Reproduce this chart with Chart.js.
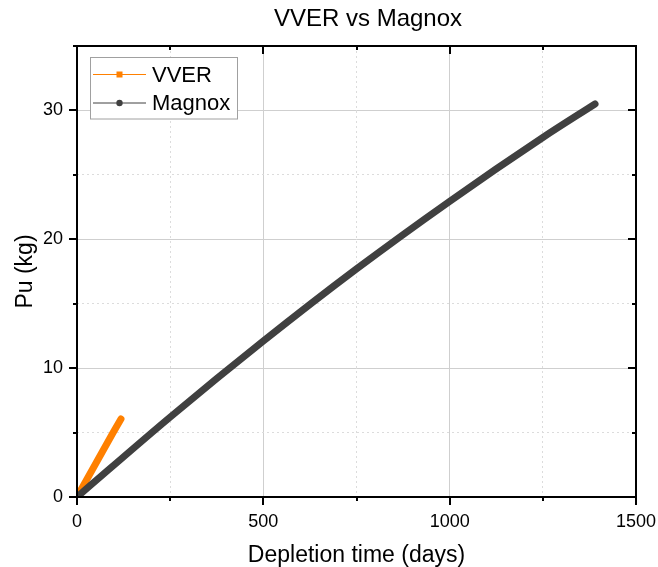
<!DOCTYPE html>
<html>
<head>
<meta charset="utf-8">
<title>VVER vs Magnox</title>
<script src="https://cdn.jsdelivr.net/npm/chart.js@4.4.1/dist/chart.umd.min.js"></script>
<style>
    html, body { margin: 0; padding: 0; background: #fff; }
    #wrap { width: 658px; height: 567px; position: relative; }
</style>
</head>
<body>
<div id="wrap"><canvas id="pu-chart"></canvas></div>
<script>
"use strict";

var chartTitle = "VVER vs Magnox";
var xTitle = "Depletion time (days)";
var yTitle = "Pu (kg)";

var vverDays = [0, 97, 118];
var vverPu = [0, 5.0, 6.05];

var magnoxDays = [0, 250, 500, 750, 1000, 1250, 1390];
var magnoxPu = [0, 6.2, 12.1, 17.7, 22.95, 27.9, 30.5];

var seriesNames = ["VVER", "Magnox"];
var seriesColors = ["#ff8000", "#404040"];

var xTicks = [0, 500, 1000, 1500];
var yTicks = [0, 10, 20, 30];

var fontFamily = "'Liberation Sans', Arial, sans-serif";

function toPoints(xs, ys){
    var pts = [];
    for(var i = 0; i < xs.length; i++){
        pts.push({x: xs[i], y: ys[i]});
    }
    return pts;
}

function isMajor(list, v){
    return list.indexOf(v) !== -1;
}

// frame, mirrored ticks, title and legend like the Origin plot
var framePlugin = {
    id: 'frame',
    afterDraw: function(chart){
        var ctx = chart.ctx;
        var a = chart.chartArea;
        var xs = chart.scales.x;
        var ys = chart.scales.y;
        ctx.save();

        ctx.strokeStyle = '#000';
        ctx.lineWidth = 2;
        ctx.beginPath();
        xs.ticks.forEach(function(t){
            var px = Math.round(xs.getPixelForValue(t.value));
            var len = isMajor(xTicks, t.value) ? 8 : 4;
            ctx.moveTo(px, a.bottom); ctx.lineTo(px, a.bottom + len);
            ctx.moveTo(px, a.top); ctx.lineTo(px, a.top + len);
        });
        ys.ticks.forEach(function(t){
            var py = Math.round(ys.getPixelForValue(t.value));
            var len = isMajor(yTicks, t.value) ? 8 : 4;
            ctx.moveTo(a.left, py); ctx.lineTo(a.left - len, py);
            ctx.moveTo(a.right, py); ctx.lineTo(a.right - len, py);
        });
        ctx.stroke();
        ctx.strokeRect(a.left, a.top, a.right - a.left, a.bottom - a.top);

        // title
        ctx.fillStyle = '#000';
        ctx.font = '24px ' + fontFamily;
        ctx.textAlign = 'center';
        ctx.textBaseline = 'middle';
        ctx.fillText(chartTitle, 368, 19);

        // legend
        var bx = 90, by = 57.5, bw = 147, bh = 61.5;
        ctx.fillStyle = '#fff';
        ctx.fillRect(bx, by, bw, bh);
        ctx.strokeStyle = '#a0a0a0';
        ctx.lineWidth = 1;
        ctx.strokeRect(bx + 0.5, by, bw, bh);
        var rows = [74.5, 103];
        for(var i = 0; i < seriesNames.length; i++){
            var ry = rows[i];
            ctx.strokeStyle = seriesColors[i];
            ctx.lineWidth = 1;
            ctx.beginPath();
            ctx.moveTo(93, ry); ctx.lineTo(146, ry);
            ctx.stroke();
            ctx.fillStyle = seriesColors[i];
            if(i === 0){
                ctx.fillRect(116.5, ry - 3, 6, 6);
            } else {
                ctx.beginPath();
                ctx.arc(119.5, ry, 3.2, 0, Math.PI * 2);
                ctx.fill();
            }
            ctx.fillStyle = '#000';
            ctx.font = '22px ' + fontFamily;
            ctx.textAlign = 'left';
            ctx.textBaseline = 'middle';
            ctx.fillText(seriesNames[i], 152, ry + 1);
        }
        ctx.restore();
    }
};

var ctx1 = document.getElementById("pu-chart").getContext("2d");
new Chart(ctx1, {
    type: "line",
    data: {
        datasets: [{
            label: seriesNames[1],
            data: toPoints(magnoxDays, magnoxPu),
            borderColor: seriesColors[1],
            backgroundColor: seriesColors[1],
            borderWidth: 7,
            borderCapStyle: 'round',
            borderJoinStyle: 'round',
            cubicInterpolationMode: 'monotone',
            pointRadius: 0,
            fill: false
        }, {
            label: seriesNames[0],
            data: toPoints(vverDays, vverPu),
            borderColor: seriesColors[0],
            backgroundColor: seriesColors[0],
            borderWidth: 7,
            borderCapStyle: 'round',
            borderJoinStyle: 'round',
            pointRadius: 0,
            fill: false
        }]
    },
    options: {
        responsive: true,
        maintainAspectRatio: false,
        animation: false,
        layout: {
            padding: {left: 0, right: 22, top: 46, bottom: 0}
        },
        plugins: {
            legend: { display: false },
            title: { display: false },
            tooltip: { enabled: false }
        },
        scales: {
            x: {
                type: 'linear',
                min: 0,
                max: 1500,
                afterFit: function(scale){
                    scale.height = 70;
                    scale.paddingLeft = 0;
                    scale.paddingRight = 0;
                },
                grid: {
                    drawTicks: false,
                    lineWidth: 1,
                    color: function(c){
                        return (c.tick && isMajor(xTicks, c.tick.value)) ? '#cfcfcf' : '#dcdcdc';
                    }
                },
                border: {
                    display: false,
                    dash: function(c){
                        return (c.tick && !isMajor(xTicks, c.tick.value)) ? [2, 3] : [];
                    }
                },
                ticks: {
                    stepSize: 250,
                    padding: 14,
                    maxRotation: 0,
                    autoSkip: false,
                    color: '#000',
                    font: { family: fontFamily, size: 18 },
                    callback: function(v){ return isMajor(xTicks, v) ? String(v) : ''; }
                },
                title: {
                    display: true,
                    text: xTitle,
                    color: '#000',
                    padding: {top: 0, bottom: 0},
                    font: { family: fontFamily, size: 23, lineHeight: 1 }
                }
            },
            y: {
                type: 'linear',
                min: 0,
                max: 35,
                afterFit: function(scale){
                    scale.width = 77;
                    scale.paddingTop = 0;
                    scale.paddingBottom = 0;
                },
                grid: {
                    drawTicks: false,
                    lineWidth: 1,
                    color: function(c){
                        return (c.tick && isMajor(yTicks, c.tick.value)) ? '#cfcfcf' : '#dcdcdc';
                    }
                },
                border: {
                    display: false,
                    dash: function(c){
                        return (c.tick && !isMajor(yTicks, c.tick.value)) ? [2, 3] : [];
                    }
                },
                ticks: {
                    stepSize: 5,
                    padding: 14,
                    autoSkip: false,
                    color: '#000',
                    font: { family: fontFamily, size: 18 },
                    callback: function(v){ return isMajor(yTicks, v) ? String(v) : ''; }
                },
                title: {
                    display: true,
                    text: yTitle,
                    color: '#000',
                    padding: {top: 14, bottom: 0},
                    font: { family: fontFamily, size: 23, lineHeight: 1 }
                }
            }
        }
    },
    plugins: [framePlugin]
});
</script>
</body>
</html>
